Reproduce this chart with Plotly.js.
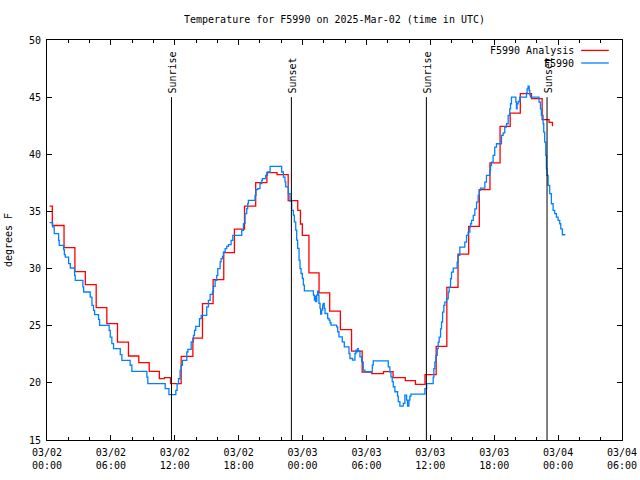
<!DOCTYPE html>
<html>
<head>
<meta charset="utf-8">
<script src="https://cdn.plot.ly/plotly-3.0.1.min.js"></script>
<style>html,body{margin:0;padding:0;background:#fff}#chart{width:640px;height:480px}</style>
</head>
<body>
<div id="chart"></div>
<script>
// Hours after 2025-03-02 00:00 UTC
const startDate = '2025-03-02';
const analysisHours = [0.24,0.5,1.6,2.62,3.6,4.62,5.62,6.62,7.65,8.62,9.6,10.55,11.03,11.6,12.6,13.7,14.6,15.6,16.6,17.6,18.55,19.6,20.65,21.6,22.65,23.55,23.8,23.98,24.6,25.55,26.55,27.55,28.6,29.6,30.5,31.6,32.5,33.65,34.6,35.5,36.55,37.55,38.6,39.6,40.6,41.6,42.55,43.5,44.45,45.5,46.5,47.15,47.47];
const analysisTemps = [35.47,33.77,31.83,29.73,28.6,26.58,25.18,23.57,22.35,21.77,21.01,20.37,20.46,19.93,22.32,23.92,26.93,29.03,31.4,33.46,35.47,37.52,38.4,38.22,35.95,35.1,33.9,32.9,29.63,27.88,26.27,24.65,22.77,20.95,20.81,20.98,20.46,20.2,19.87,20.72,23.2,28.36,31.27,33.7,36.91,39.24,42.45,43.6,45.3,44.87,43.03,42.8,42.45];

const obsHours = [0.25,0.53,0.68,1.09,1.15,1.56,1.63,1.72,2.03,2.19,2.59,2.65,3.37,3.44,4.06,4.22,4.37,4.47,4.84,4.94,5.84,5.94,6.09,6.25,6.88,7.03,7.81,7.97,9.38,9.47,11.1,11.45,12.1,12.22,12.35,12.5,12.6,12.72,13.13,13.23,13.54,13.76,13.85,13.97,14.32,14.48,15.0,15.16,15.32,15.54,15.63,15.79,15.94,16.04,16.26,16.35,16.48,16.57,16.73,16.88,17.04,17.29,17.45,18.29,18.45,18.6,18.76,18.85,18.91,19.54,19.63,19.79,20.0,20.17,20.23,20.54,20.7,20.95,22.04,22.2,22.35,22.42,22.67,22.82,22.98,23.14,23.23,23.36,23.45,23.54,23.67,23.76,23.86,23.98,24.08,24.17,25.02,25.11,25.17,25.23,25.33,25.42,25.48,25.54,25.64,25.7,25.79,25.89,25.95,26.04,26.11,26.36,26.48,26.58,26.67,27.2,27.3,27.42,27.73,27.92,28.36,28.45,28.7,28.92,29.01,29.11,29.17,29.23,29.39,29.55,29.7,29.86,30.55,30.64,32.05,32.2,32.3,32.42,32.52,32.67,32.92,32.99,33.14,33.46,33.61,33.77,33.86,33.99,34.08,34.18,35.49,35.65,36.27,36.33,36.42,36.52,36.65,36.74,36.83,36.96,37.05,37.15,37.27,37.36,37.52,37.68,37.77,37.9,37.99,38.15,38.52,38.61,38.77,39.24,39.4,39.55,39.71,39.78,39.87,40.03,40.18,40.34,40.49,40.59,40.71,41.12,41.27,41.59,41.65,41.74,41.9,42.05,42.21,42.68,42.84,42.99,43.15,43.31,43.46,43.53,43.62,44.03,44.09,44.15,44.25,44.4,45.03,45.09,45.18,45.28,45.34,45.4,46.21,46.34,46.43,46.59,46.65,46.74,46.84,46.9,46.96,47.06,47.21,47.37,47.53,47.68,47.84,48.0,48.15,48.25,48.4,48.68];
const obsTemps = [34.02,33.64,33.05,32.47,32.03,31.66,31.22,31.01,30.43,30.05,29.41,28.97,28.39,27.95,27.51,26.78,26.35,25.97,25.56,25.03,24.6,24.01,23.43,22.99,22.47,21.97,21.54,21.01,20.51,19.93,19.49,18.97,19.35,19.93,20.36,21.1,21.53,21.97,22.7,22.93,23.58,24.16,24.6,24.95,25.62,25.91,26.64,27.22,27.75,27.95,28.45,28.97,29.41,29.99,30.58,30.87,31.07,31.45,31.74,31.94,32.09,32.47,32.91,33.34,33.93,34.8,35.24,35.68,35.97,36.41,36.9,36.99,37.43,37.72,37.87,38.16,38.45,38.95,38.45,38.01,37.58,37.14,36.55,35.9,35.1,34.67,34.09,33.36,32.49,31.76,30.74,30.0,29.57,29.13,28.55,28.05,27.68,27.24,27.59,27.1,27.68,28.03,27.68,26.95,26.51,26.02,26.37,26.8,26.95,26.51,26.07,25.63,25.49,25.26,25.05,24.9,24.47,24.03,23.59,23.15,22.57,22.13,21.99,22.57,22.86,22.71,23.0,22.8,22.28,21.84,21.11,20.97,21.55,21.93,21.4,20.97,20.53,20.1,19.66,19.22,18.84,18.35,17.97,18.2,18.93,18.49,17.97,18.49,18.84,19.02,19.49,19.93,20.51,21.24,21.82,22.4,22.99,23.57,24.0,24.73,25.32,26.19,26.78,27.07,27.36,27.94,28.38,29.11,29.69,30.04,30.56,31.15,31.88,32.31,32.9,33.19,33.63,33.92,34.21,34.65,35.23,35.81,36.4,36.84,37.04,37.56,38.15,38.58,39.02,39.31,39.9,40.63,40.92,41.65,41.88,42.38,42.67,43.4,43.98,44.42,45.0,44.56,43.98,44.42,44.62,45.0,45.38,45.73,45.96,45.58,45.2,45.0,44.56,43.98,43.4,42.67,41.94,41.07,39.9,38.73,38.15,37.28,36.55,35.67,35.09,34.8,34.51,34.21,33.92,33.48,32.96,32.96];

const eventHours = [11.69, 22.95, 35.63, 46.96];
const eventLabels = ['Sunrise', 'Sunset', 'Sunrise', 'Sunset'];
const eventTop = 45;

const seriesNames = ['F5990 Analysis', 'F5990'];
const seriesColors = ['#ff0000', '#0080ff'];

const rangeHours = [0, 54];
const yRange = [15, 50];

const baseMs = Date.parse(startDate + 'T00:00:00Z');
function toDate(h) {
  return new Date(baseMs + h * 3600000).toISOString().slice(0, 19).replace('T', ' ');
}

const font = {family: 'DejaVu Sans Mono, Liberation Mono, monospace', size: 10, color: '#000'};

const traces = [
  {x: analysisHours.map(toDate), y: analysisTemps, name: seriesNames[0], type: 'scatter', mode: 'lines',
   line: {color: seriesColors[0], width: 1.3, shape: 'hv'}},
  {x: obsHours.map(toDate), y: obsTemps, name: seriesNames[1], type: 'scatter', mode: 'lines',
   line: {color: seriesColors[1], width: 1.3, shape: 'hv'}}
];

const shapes = eventHours.map(h => ({
  type: 'line', xref: 'x', yref: 'y', x0: toDate(h), x1: toDate(h), y0: yRange[0], y1: eventTop,
  line: {color: '#000', width: 1}
}));
const annotations = eventHours.map((h, i) => ({
  x: toDate(h), y: eventTop, xref: 'x', yref: 'y', text: eventLabels[i], showarrow: false,
  textangle: -90, xanchor: 'center', yanchor: 'bottom', yshift: 2, xshift: 1, font: font
}));
// legend (text to the left of the sample line, as in the reference)
const legendRows = [0.974, 0.9425];
seriesNames.forEach((n, i) => {
  annotations.push({xref: 'paper', yref: 'paper', x: 0.9195, y: legendRows[i], text: n, showarrow: false,
    xanchor: 'right', yanchor: 'middle', font: font});
  shapes.push({type: 'line', xref: 'paper', yref: 'paper', x0: 0.929, x1: 0.977, y0: legendRows[i], y1: legendRows[i],
    line: {color: seriesColors[i], width: 1.3}});
});

const layout = {
  width: 640, height: 480,
  margin: {l: 47, r: 18, t: 40, b: 40},
  paper_bgcolor: '#fff', plot_bgcolor: '#fff',
  font: font,
  showlegend: false,
  title: {text: 'Temperature for F5990 on 2025-Mar-02 (time in UTC)', font: font,
          x: 0.5, xref: 'paper', xanchor: 'center', y: 0.96, yref: 'container', yanchor: 'middle'},
  xaxis: {
    type: 'date', range: [toDate(rangeHours[0]), toDate(rangeHours[1])],
    tickmode: 'linear', tick0: toDate(0), dtick: 6 * 3600000, tickformat: '%m/%d<br>%H:%M',
    ticks: 'inside', ticklen: 5, tickcolor: '#000', tickwidth: 1, ticklabelstandoff: 3,
    minor: {dtick: 2 * 3600000, tick0: toDate(0), ticks: 'inside', ticklen: 3, tickcolor: '#000', showgrid: false},
    showline: true, linecolor: '#000', linewidth: 1, mirror: 'allticks',
    showgrid: false, zeroline: false, fixedrange: true, tickfont: font
  },
  yaxis: {
    range: yRange, tickmode: 'linear', tick0: 15, dtick: 5,
    ticks: 'inside', ticklen: 5, tickcolor: '#000', ticklabelstandoff: 3,
    showline: true, linecolor: '#000', linewidth: 1, mirror: 'allticks',
    showgrid: false, zeroline: false, tickfont: font,
    title: {text: 'degrees F', font: font, standoff: 14}
  },
  shapes: shapes,
  annotations: annotations
};

Plotly.newPlot('chart', traces, layout, {staticPlot: true, displayModeBar: false});
</script>
</body>
</html>
